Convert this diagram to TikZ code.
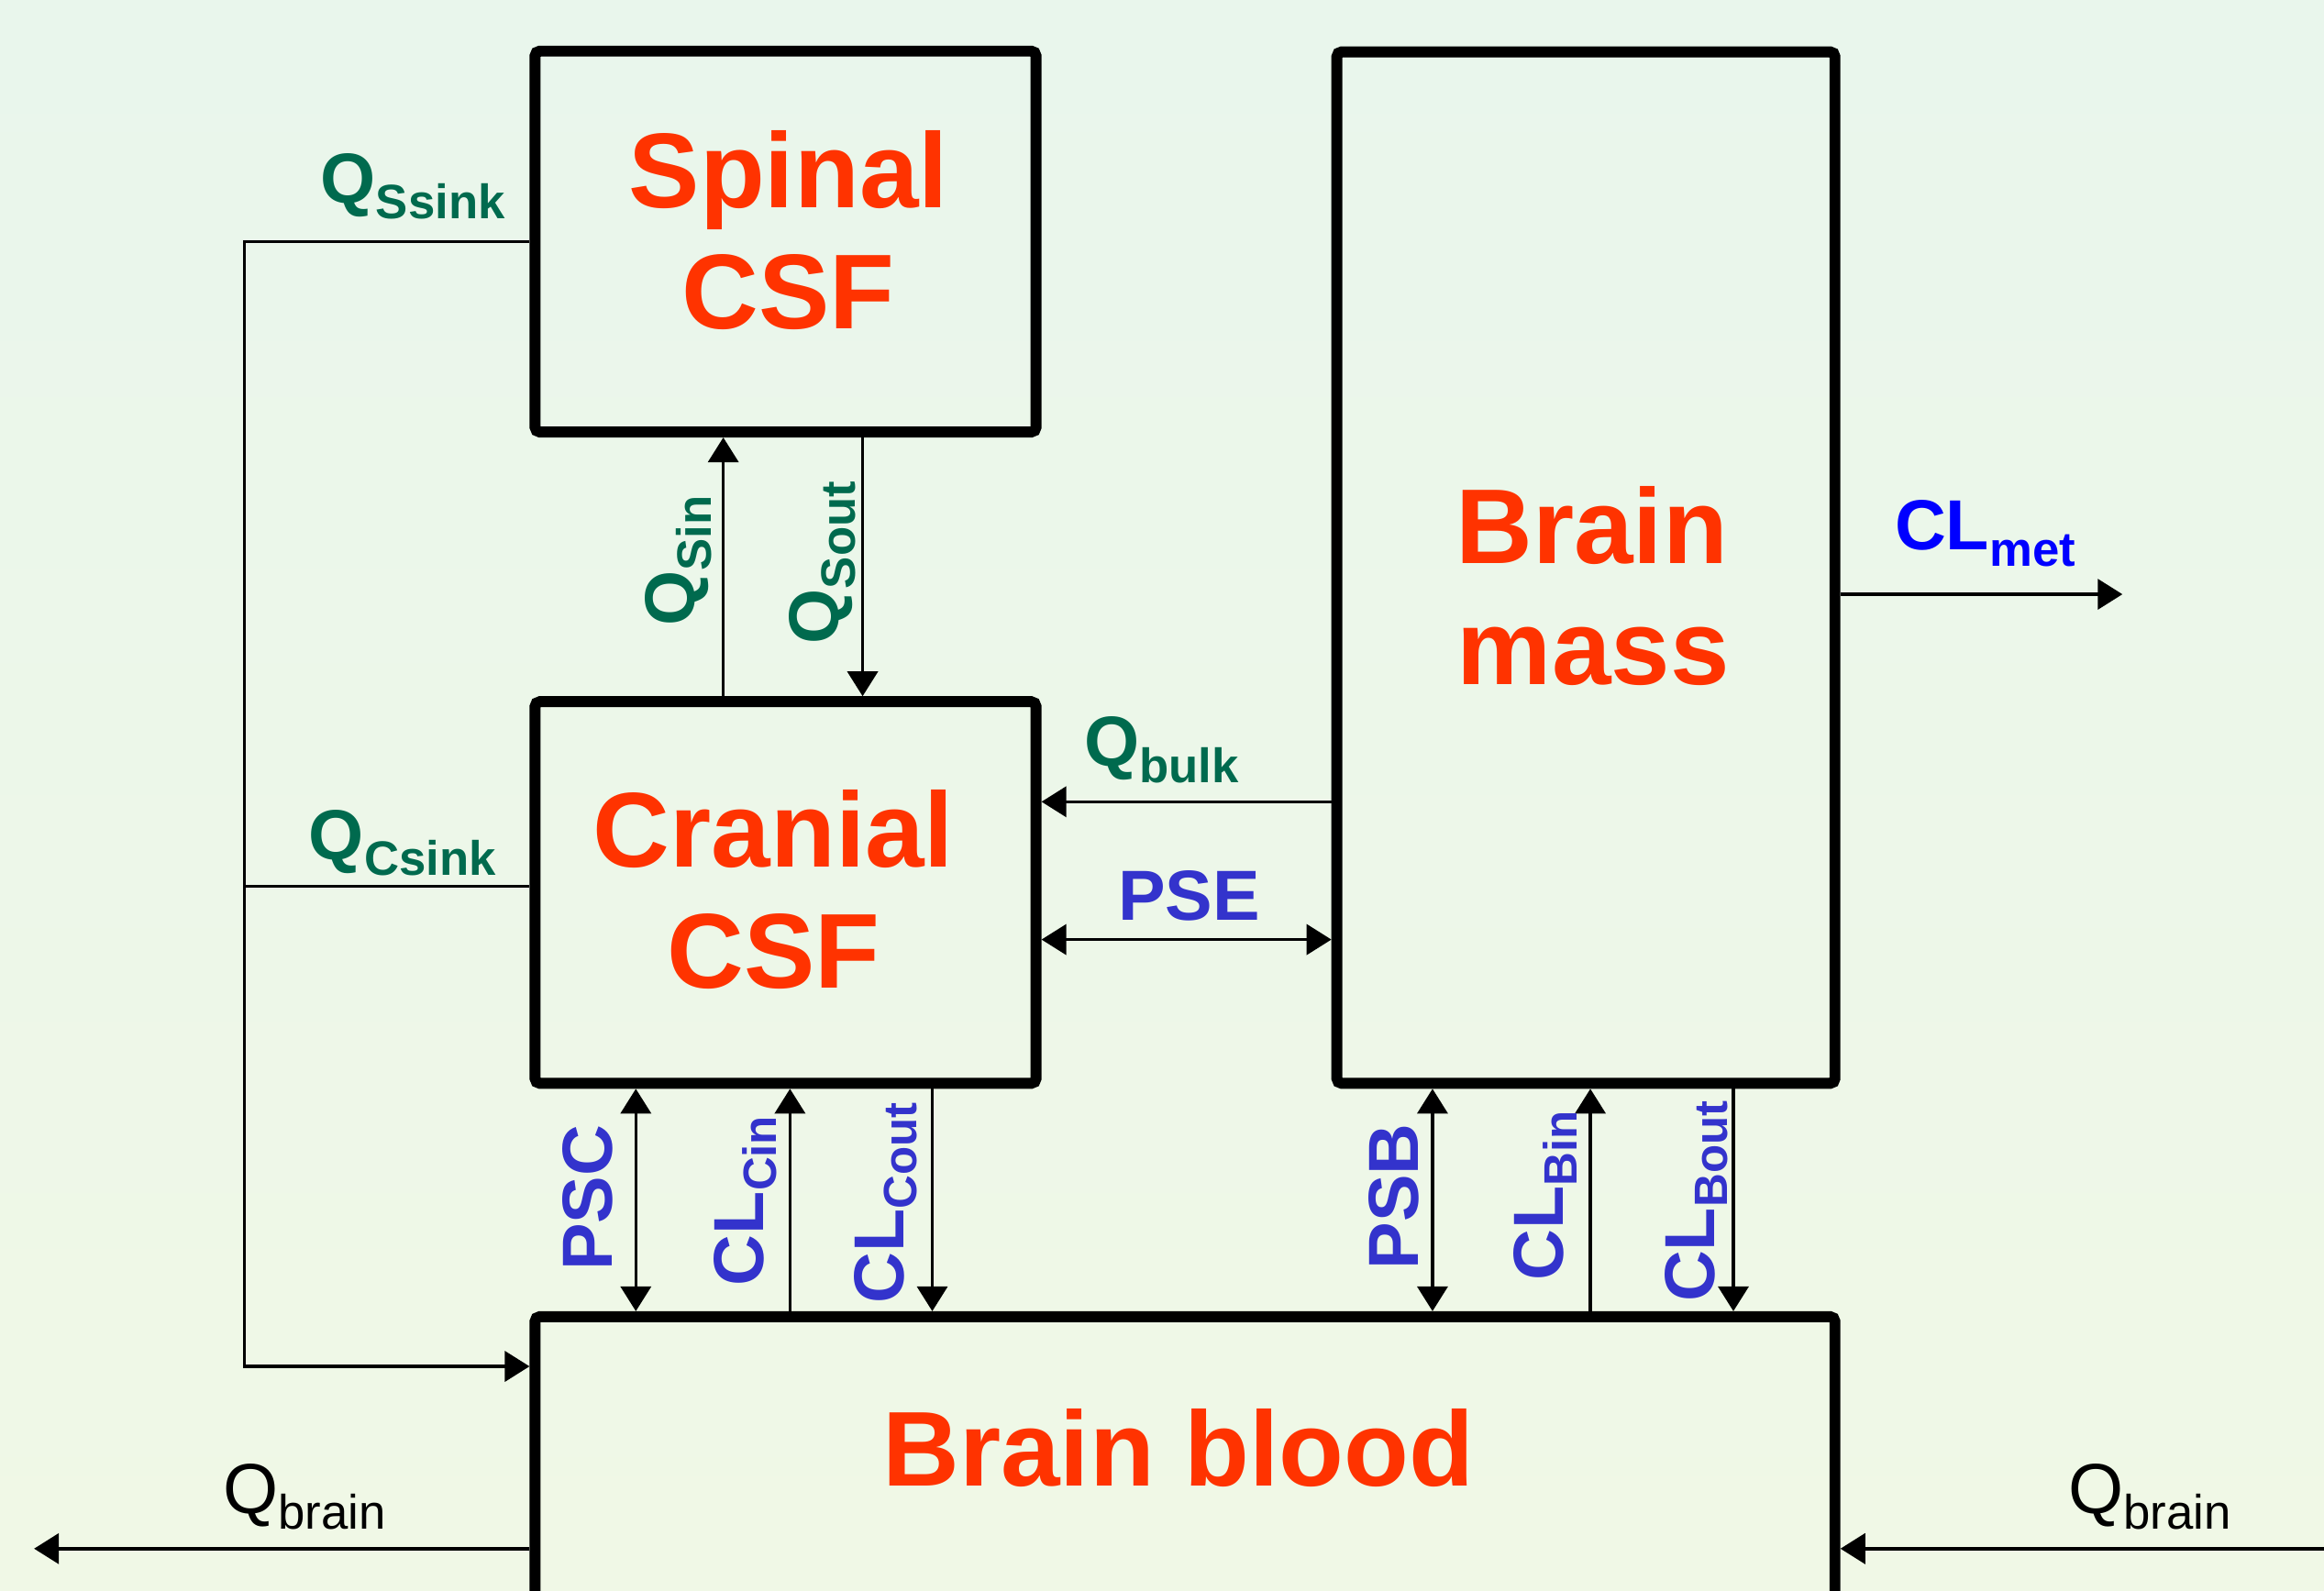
\documentclass[tikz,border=0pt]{standalone}
\usepackage{fontspec}
\setmainfont{Liberation Sans}
\usetikzlibrary{arrows.meta,calc}
\definecolor{redt}{HTML}{FF3300}
\definecolor{greent}{HTML}{006A4E}
\definecolor{bluet}{HTML}{3333CC}
\definecolor{bluem}{HTML}{0000FF}
\definecolor{bgtop}{HTML}{E9F6EC}
\definecolor{bgbot}{HTML}{F0F8E6}
\newcommand\subG[1]{\raisebox{-5pt}{\fontsize{15}{15}\selectfont #1}}
\newcommand\subB[1]{\raisebox{-4pt}{\fontsize{14.5}{14.5}\selectfont #1}}
\begin{document}
\begin{tikzpicture}[x=0.01616cm,y=-0.01616cm,
  box/.style={draw,line width=3.4pt,rounded corners=1.5pt,inner sep=0pt,outer sep=1.7pt},
  arr/.style={line width=1pt,-{Triangle[length=0.27cm,width=0.33cm]}},
  dbl/.style={line width=1pt,{Triangle[length=0.27cm,width=0.33cm]}-{Triangle[length=0.27cm,width=0.33cm]}},
  ln/.style={line width=1pt},
  lab/.style={inner sep=0pt,anchor=base west},
  big/.style={inner sep=0pt,anchor=base,text=redt,font=\fontsize{33}{38}\selectfont\bfseries},
  gl/.style={lab,text=greent,font=\fontsize{22}{22}\selectfont\bfseries},
  bl/.style={lab,text=bluet,font=\fontsize{22}{22}\selectfont\bfseries},
  ]
\clip (0,0) rectangle (1568,1073);
\fill[top color=bgtop,bottom color=bgbot] (0,0) rectangle (1568,1073);

% boxes
\node[box,minimum width=5.462cm,minimum height=4.153cm] (spinal) at (530,163) {};
\node[box,minimum width=5.430cm,minimum height=11.247cm] (bmass) at (1070,383) {};
\node[box,minimum width=5.462cm,minimum height=4.161cm] (cranial) at (530,602.25) {};
\node[box,minimum width=14.172cm,minimum height=6.642cm] (bblood) at (799.5,1094) {};

% box titles
\node[big] (tSpinal) at (532,140) {Spinal};
\node[big] (tSCSF) at (532,222) {CSF};
\node[big] (tBrain) at (1074,380) {Brain};
\node[big] (tMass) at (1075,462) {mass};
\node[big] (tCranial) at (522,585) {Cranial};
\node[big] (tCCSF) at (522,667) {CSF};
\node[big] (tBlood) at (795,1003) {Brain blood};

% helper coordinates
\coordinate (sinkx) at (165,922);
\coordinate (csink) at (165,598);
\coordinate (metend) at (1432,401);
\coordinate (qbL) at (23,1045);
\coordinate (qbR) at (1568,1045);
\coordinate (ybulk) at (0,541);
\coordinate (ypse) at (0,634);
\coordinate (xQSin) at (488,0);
\coordinate (xQSout) at (582,0);
\coordinate (xPSC) at (429,0);
\coordinate (xCLCin) at (533,0);
\coordinate (xCLCout) at (629,0);
\coordinate (xPSB) at (966.5,0);
\coordinate (xCLBin) at (1073,0);
\coordinate (xCLBout) at (1169.5,0);

% connectors
\draw[arr] (spinal.west) -| (sinkx) -- (bblood.west |- sinkx);
\draw[ln] (cranial.west |- csink) -- (csink);
\draw[arr] (cranial.north -| xQSin) -- (spinal.south -| xQSin);
\draw[arr] (spinal.south -| xQSout) -- (cranial.north -| xQSout);
\draw[arr] (bmass.west |- ybulk) -- (cranial.east |- ybulk);
\draw[dbl] (cranial.east |- ypse) -- (bmass.west |- ypse);
\draw[arr] (bmass.east |- metend) -- (metend);
\draw[dbl] (cranial.south -| xPSC) -- (bblood.north -| xPSC);
\draw[arr] (bblood.north -| xCLCin) -- (cranial.south -| xCLCin);
\draw[arr] (cranial.south -| xCLCout) -- (bblood.north -| xCLCout);
\draw[dbl] (bmass.south -| xPSB) -- (bblood.north -| xPSB);
\draw[arr] (bblood.north -| xCLBin) -- (bmass.south -| xCLBin);
\draw[arr] (bmass.south -| xCLBout) -- (bblood.north -| xCLBout);
\draw[arr] (bblood.west |- qbL) -- (qbL);
\draw[arr] (qbR) -- (bblood.east |- qbR);

% labels
\node[gl] (lQSsink) at (216,137) {Q\subG{Ssink}};
\node[gl] (lQCsink) at (208,580) {Q\subG{Csink}};
\node[gl] (lQbulk) at (731,517) {Q\subG{bulk}};
\node[bl] (lPSE) at (754,621) {PSE};
\node[lab,text=bluem,font=\fontsize{22}{22}\selectfont\bfseries] (lCLmet) at (1278,371) {CL\subG{met}};
\node[lab,font=\fontsize{22}{22}\selectfont] (lQbrainL) at (150,1021) {Q\subG{brain}};
\node[lab,font=\fontsize{22}{22}\selectfont] (lQbrainR) at (1395,1021) {Q\subG{brain}};

\node[gl,rotate=90] (lQSin) at (469,423) {Q\subG{Sin}};
\node[gl,rotate=90] (lQSout) at (566,435) {Q\subG{Sout}};
\node[bl,rotate=90] (lPSC) at (413,858) {PSC};
\node[bl,rotate=90] (lCLCin) at (515,868) {CL\subB{Cin}};
\node[bl,rotate=90] (lCLCout) at (609.5,880) {CL\subB{Cout}};
\node[bl,rotate=90] (lPSB) at (957,857) {PSB};
\node[bl,rotate=90] (lCLBin) at (1055,864.5) {CL\subB{Bin}};
\node[bl,rotate=90] (lCLBout) at (1157,879) {CL\subB{Bout}};
\end{tikzpicture}
\end{document}
